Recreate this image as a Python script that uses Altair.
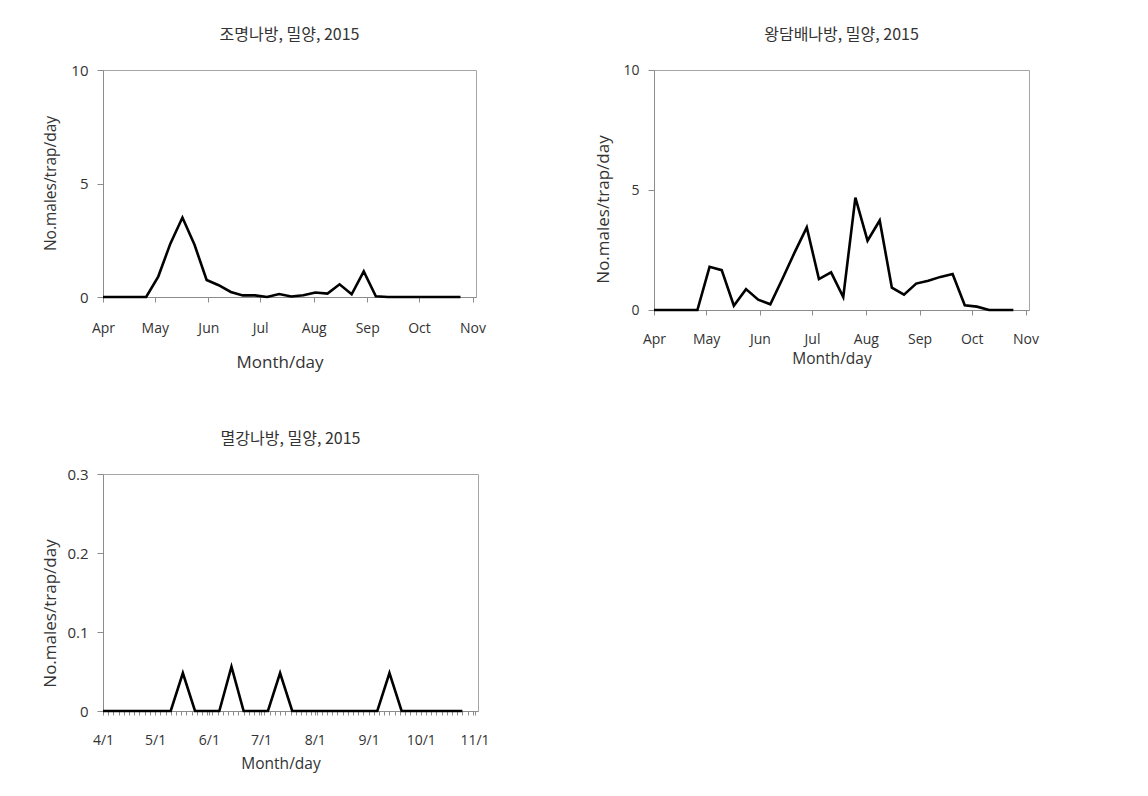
import altair as alt
import pandas as pd

# ---- data ----
dates = [
    "2015-04-01", "2015-04-05", "2015-04-12", "2015-04-19", "2015-04-26",
    "2015-05-03", "2015-05-10", "2015-05-17", "2015-05-24", "2015-05-31",
    "2015-06-07", "2015-06-14", "2015-06-21", "2015-06-28", "2015-07-05",
    "2015-07-12", "2015-07-19", "2015-07-26", "2015-08-02", "2015-08-09",
    "2015-08-16", "2015-08-23", "2015-08-30", "2015-09-06", "2015-09-13",
    "2015-09-20", "2015-09-27", "2015-10-04", "2015-10-11", "2015-10-18",
    "2015-10-25",
]
jomyeong = [0, 0, 0, 0, 0, 0.9, 2.35, 3.5, 2.3, 0.75,
            0.52, 0.22, 0.07, 0.07, 0.0, 0.13, 0.02, 0.08, 0.2, 0.15,
            0.56, 0.12, 1.13, 0.03, 0, 0, 0, 0, 0, 0, 0]
wangdambae = [0, 0, 0, 0, 0, 1.8, 1.66, 0.18, 0.87, 0.43,
              0.24, 1.3, 2.4, 3.44, 1.29, 1.57, 0.54, 4.68, 2.89, 3.73,
              0.93, 0.64, 1.1, 1.22, 1.38, 1.5, 0.2, 0.14, 0, 0, 0]
myeolgang = [0, 0, 0, 0, 0, 0, 0, 0.048, 0, 0,
             0, 0.056, 0, 0, 0, 0.048, 0, 0, 0, 0,
             0, 0, 0, 0, 0.048, 0, 0, 0, 0, 0, 0]

titles = ["조명나방, 밀양, 2015", "왕담배나방, 밀양, 2015", "멸강나방, 밀양, 2015"]
month_starts = ["2015-04-01", "2015-05-01", "2015-06-01", "2015-07-01",
                "2015-08-01", "2015-09-01", "2015-10-01", "2015-11-01"]
x_domain = ["2015-04-01", "2015-11-03"]
y_title = "No.males/trap/day"
x_title = "Month/day"

LATIN = "Open Sans"
KOR = "Noto Sans CJK KR"
TXT = "#333333"
AX = "#8c8c8c"


def dt(s):
    y, m, d = (int(p) for p in s.split("-"))
    return alt.DateTime(year=y, month=m, date=d)


# minor ticks for the third panel: every 3 days plus month starts
minor = sorted(set(
    [d.strftime("%Y-%m-%d") for d in pd.date_range("2015-04-01", "2015-11-01", freq="3D")]
    + month_starts
))


def panel(values, title, ydom, yvals, w, h, xvals, label_expr,
          ylab_size, ytitle_size, ytitle_y, xtitle_size, xlab_pad, xtitle_pad,
          ylab_pad, ytitle_pad, tick_size=5):
    df = pd.DataFrame({"date": pd.to_datetime(dates), "v": values})
    return alt.Chart(df, title=alt.Title(
        title, font=KOR, fontSize=16, fontWeight="normal", color=TXT,
        anchor="middle", offset=20,
    )).mark_line(color="black", strokeWidth=2.6).encode(
        x=alt.X("date:T",
                scale=alt.Scale(domain=[dt(x_domain[0]), dt(x_domain[1])]),
                axis=alt.Axis(values=[dt(v) for v in xvals], labelExpr=label_expr,
                              labelOverlap=False, labelFlush=False,
                              title=x_title, titleFontSize=xtitle_size,
                              titleX=w / 2 - 10,
                              labelPadding=xlab_pad, titlePadding=xtitle_pad,
                              tickSize=tick_size, grid=False)),
        y=alt.Y("v:Q",
                scale=alt.Scale(domain=ydom, nice=False, zero=True),
                axis=alt.Axis(values=yvals, format=".2~r", title=y_title,
                              titleFontSize=ytitle_size, titleY=ytitle_y,
                              labelFontSize=ylab_size, labelPadding=ylab_pad,
                              titlePadding=ytitle_pad, tickSize=6, grid=False)),
    ).properties(width=w, height=h)


p1 = panel(jomyeong, titles[0], [0, 10], [0, 5, 10], 373, 227, month_starts,
           "timeFormat(datum.value, '%b')",
           15, 15.5, 113, 17, 19, 19, 9, 12)
p2 = panel(wangdambae, titles[1], [0, 10], [0, 5, 10], 375, 240, month_starts,
           "timeFormat(datum.value, '%b')",
           14, 17, 139, 15.5, 17, 5, 9, 10)
p3 = panel(myeolgang, titles[2], [0, 0.3], [0, 0.1, 0.2, 0.3], 375, 237, minor,
           "date(datum.value) == 1 ? timeFormat(datum.value, '%-m/%-d') : ''",
           15, 17, 139, 15.5, 18, 9, 9, 7, tick_size=4)

top = alt.hconcat(p1, p2, spacing=107)
chart = alt.vconcat(top, p3, spacing=59).properties(
    padding={"left": 33, "top": 18, "right": 5, "bottom": 5}
).configure_view(
    stroke="#a6a6a6", strokeWidth=1
).configure_axis(
    domainColor=AX, tickColor=AX, labelColor=TXT, titleColor=TXT,
    labelFont=LATIN, titleFont=LATIN, labelFontSize=14,
    titleFontWeight="normal", domainWidth=1, tickWidth=1,
)

chart.save("out.html", embed_options={"renderer": "svg", "actions": False})
